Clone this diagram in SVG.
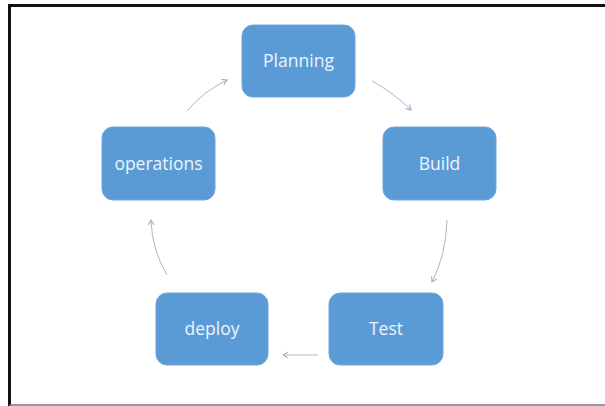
<svg xmlns="http://www.w3.org/2000/svg" width="605" height="406" viewBox="0 0 605 406">
<defs>
<marker id="ah" markerWidth="8" markerHeight="8" refX="6" refY="4" orient="auto" markerUnits="userSpaceOnUse">
<path d="M1,1 L6,4 L1,7" fill="none" stroke="#8faac8" stroke-width="1"/>
</marker>
<style>
.box{fill:#5b9bd5;stroke:#6fa6da;stroke-width:1}
.lbl{font-family:"Open Sans","Liberation Sans",sans-serif;font-size:17.5px;fill:#eef4fb;text-anchor:middle;dominant-baseline:central}
.arr{fill:none;stroke:#a7b6c8;stroke-width:1;marker-end:url(#ah)}
</style>
</defs>
<rect x="0" y="0" width="605" height="406" fill="#ffffff"/>
<g id="frame">
<line x1="8" y1="5.5" x2="605" y2="5.5" stroke="#111" stroke-width="3"/>
<line x1="9.5" y1="4" x2="9.5" y2="406" stroke="#111" stroke-width="3"/>
<line x1="9" y1="405" x2="605" y2="405" stroke="#777" stroke-width="1.5"/>
</g>
<g id="connectors">
<path class="arr" d="M372,81 Q394,93 411,110"/>
<path class="arr" d="M447,220 Q446,255 432,282"/>
<path class="arr" d="M318,355 Q300,355 283,355"/>
<path class="arr" d="M167,275 Q152,250 151,220"/>
<path class="arr" d="M187,111 Q204,91 227,80"/>
</g>
<g id="planning"><rect class="box" x="242" y="25" width="113" height="72" rx="11"/><text class="lbl" x="298.5" y="60">Planning</text></g>
<g id="build"><rect class="box" x="383" y="127" width="113" height="73" rx="11"/><text class="lbl" x="439.5" y="162.5">Build</text></g>
<g id="test"><rect class="box" x="329" y="293" width="114" height="72" rx="11"/><text class="lbl" x="386" y="328">Test</text></g>
<g id="deploy"><rect class="box" x="156" y="293" width="112" height="72" rx="11"/><text class="lbl" x="212" y="328">deploy</text></g>
<g id="operations"><rect class="box" x="102" y="127" width="113" height="73" rx="11"/><text class="lbl" x="158.5" y="162.5">operations</text></g>
</svg>
